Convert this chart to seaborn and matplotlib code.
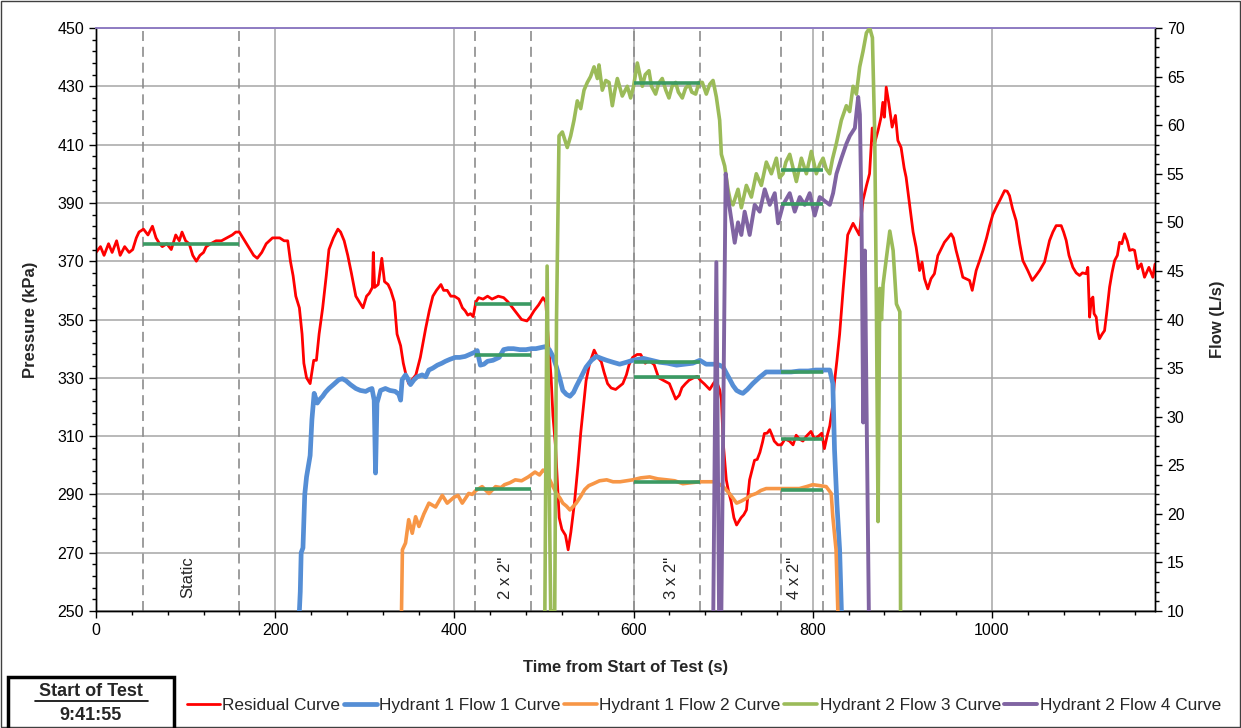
import matplotlib
matplotlib.use('Agg')
import matplotlib.pyplot as plt
from matplotlib.lines import Line2D
from matplotlib.patches import Rectangle
from matplotlib.ticker import MultipleLocator, FixedLocator
import seaborn as sns

# ---- data ----
red_t = [0, 5, 9, 14, 18, 23, 27, 32, 37, 41, 45, 48, 53, 58, 63, 67, 71, 74, 79, 84, 89, 93, 96, 100,
         104, 108, 112, 116, 120, 123, 128, 134, 140, 146, 152, 156, 160, 164, 168, 172, 176, 180, 185,
         190, 197, 205, 210, 214, 217, 220, 223, 227, 230, 232, 235, 239, 243, 246, 249, 253, 257, 260,
         265, 270, 273, 277, 281, 285, 290, 294, 298, 302, 305, 308.5, 309.5, 311, 315, 319, 322, 326,
         329, 333, 336, 340, 343, 346, 349, 352, 357, 362, 368, 372, 376, 380, 385, 388, 392, 396, 400,
         405, 409, 412, 415, 418, 421, 424, 427, 432, 437, 442, 449, 455, 460, 465, 470, 475, 481, 485,
         489, 494, 499, 502, 505, 508, 510, 513, 517, 520, 524, 527, 530, 534, 538, 541, 544, 547, 551,
         556, 560, 564, 567, 571, 575, 580, 584, 588, 592, 595, 599, 604, 608, 613, 617, 623, 628, 634,
         640, 644, 647, 651, 654, 658, 662, 667, 671, 675, 679, 685, 689, 692, 696, 698, 700, 703.5, 706,
         709, 712, 715, 718, 720, 723, 726, 729.5, 732, 735, 738, 741, 744, 746, 749, 752, 755, 757, 761,
         765, 769, 774, 778, 781.5, 785, 789, 793, 798, 802, 807.6, 810, 813, 816, 819, 822, 824, 827,
         830, 834, 839, 842, 845, 848.5, 852, 856, 860, 863.4, 866.4, 869, 873, 876.4, 878.2, 880, 882,
         885, 888.6, 892.3, 895, 898.6, 902, 904.2, 907, 909.8, 912, 915.4, 919.2, 922, 924.7, 928.4, 932,
         935.8, 939.6, 943, 947, 951, 954.4, 957, 960, 964, 967.5, 971, 975, 978, 982.4, 986, 990, 994,
         997.4, 1001, 1004.8, 1009, 1014.1, 1017, 1019.6, 1023, 1027, 1031, 1034.5, 1040, 1045, 1049,
         1053.2, 1058.7, 1064.3, 1068, 1071.7, 1077.3, 1080, 1082.9, 1086, 1090.3, 1094, 1097.8, 1101,
         1105.2, 1107, 1109, 1111, 1112.7, 1114, 1116.4, 1118, 1120, 1123, 1125.7, 1128, 1131.3, 1134,
         1136.9, 1140, 1142.4, 1145, 1148, 1151, 1153.6, 1157, 1159.2, 1162.9, 1166.6, 1170.3, 1175.2,
         1179.6, 1182]
red_p = [373, 375, 372, 376, 373, 377, 372, 375, 373, 374, 378, 380, 381, 379, 382, 378, 376, 375, 376,
         374, 379, 377, 380, 377, 376, 372, 370, 372, 373, 375, 376, 377, 377, 378, 379, 380, 380, 378,
         376, 374, 372, 371, 373, 376, 378, 378, 377, 377, 370, 365, 358, 354, 345, 335, 330, 328, 336,
         336, 345, 354, 365, 374, 378, 381, 380, 377, 372, 366, 358, 356, 354, 358, 359, 361, 373, 361,
         362, 371, 363, 362, 360, 356, 345, 341, 335, 331, 328, 329, 331, 337, 347, 353, 358, 360, 362,
         360, 360, 358, 358, 357, 354, 353, 351.5, 352, 351, 356, 357.5, 357, 358, 357, 358, 357.5, 356,
         354, 352, 350, 349.5, 351, 353, 355, 357.5, 356, 342, 330, 317, 306, 282, 278, 276, 271, 277,
         287, 300, 311, 320, 329, 335, 339.5, 337, 335.5, 332, 328, 326.5, 326, 327, 328, 331, 334.5, 337,
         338, 338, 335, 336, 334.5, 330, 329, 328, 325, 322.7, 324, 326.6, 328, 329.2, 330, 330.5, 329,
         327.9, 326, 328, 329.2, 326, 322.7, 308, 295, 291, 287.4, 282, 279.5, 281, 282, 283, 284.7, 295,
         298, 301.7, 302, 304.4, 308, 310.9, 311, 312.2, 310, 308.3, 307, 307, 309, 308.3, 307, 310.3, 309,
         308.3, 310, 311.6, 309, 310.3, 311, 305.7, 310, 313.5, 320, 327.9, 336, 345, 360.7, 379, 381,
         383, 381, 379, 390.8, 396, 400, 415.7, 410.4, 415, 419.6, 424.5, 419.4, 429.7, 424, 416, 420,
         411.4, 409, 402, 398.8, 392, 385, 380, 374.8, 366.8, 369.7, 364, 360.5, 364, 365.7, 371.9, 374,
         376.5, 378, 379.4, 378, 373.7, 369, 364.5, 364, 363.4, 360, 366.8, 370, 373.7, 378, 382.2, 386,
         388.5, 391, 394.2, 394, 392.5, 388, 383.9, 376, 370.2, 366.8, 363.4, 365, 366.8, 369.7, 377.1,
         380, 382.2, 382.2, 380, 377.1, 372, 367.9, 366, 365.1, 366, 365.7, 367.9, 350.8, 357, 357.7, 352,
         350.8, 346, 343.4, 345, 346.2, 352, 361.1, 366, 370.2, 372, 376.5, 376, 379.4, 377, 373.7, 374,
         373.7, 367.4, 369.1, 364.5, 367.9, 364.5, 369]

h1f1_t = [227, 228, 229, 231, 233, 235, 239, 241, 243.5, 247, 250, 253, 256, 260, 265, 271, 275, 279,
          284, 290, 295, 301, 305, 308, 310.5, 312, 313.6, 317.6, 323, 328, 334, 338, 340, 341.7, 345.5,
          348, 351, 355, 358.5, 364, 368, 371.5, 376, 381, 386, 390, 395, 401, 406, 412, 417, 422, 425.5,
          429, 433, 437, 443, 450, 455, 460, 466, 473, 480, 486, 491, 496, 501, 506, 510, 514, 518, 521,
          525, 529, 533, 536, 541, 547, 553, 558.5, 564, 570, 577, 584.5, 592, 599, 605, 611, 620, 629,
          638, 648, 657, 666, 674, 681, 687, 692, 696, 700, 704, 707, 711, 715, 719, 722, 727, 733, 740,
          748, 757, 767, 776, 785, 795, 803, 811, 819, 822.4, 824.3, 827, 830, 832]
h1f1_q = [10, 12, 16, 16.5, 22, 23.8, 26, 29.7, 32.4, 31.4, 31.8, 32.1, 32.5, 32.9, 33.3, 33.8, 33.9,
          33.7, 33.3, 32.9, 32.7, 32.6, 32.8, 32.9, 31.7, 24.2, 31.4, 32.7, 32.9, 32.7, 32.6, 32.3, 31.7,
          33.8, 34.3, 33.9, 33.3, 33.8, 34.1, 34.3, 34.1, 34.8, 35.0, 35.3, 35.5, 35.7, 35.9, 36.1, 36.1,
          36.2, 36.4, 36.6, 36.8, 35.3, 35.4, 35.7, 35.8, 36.1, 36.9, 37, 37, 36.9, 36.9, 37, 37, 37.1,
          37.2, 36.9, 36.2, 35.1, 33.8, 32.7, 32.3, 32.1, 32.5, 33.1, 34, 35.1, 35.8, 36.2, 36, 35.8, 35.6,
          35.4, 35.6, 35.8, 35.9, 36, 35.8, 35.6, 35.5, 35.3, 35.4, 35.5, 35.8, 35.4, 35.4, 35.4, 35.3,
          35.1, 34.4, 33.9, 33.2, 32.7, 32.5, 32.4, 32.8, 33.4, 34, 34.6, 34.6, 34.6, 34.6, 34.7, 34.7,
          34.8, 34.8, 34.8, 33.4, 26.6, 21, 16.3, 10]

h1f2_t = [341, 342, 345.5, 349, 353, 356.7, 360.5, 366, 371.6, 379, 386.5, 392, 399.5, 404, 408.8, 416,
          420, 424, 431, 438.6, 446, 452, 456, 462, 468, 475, 482.5, 490, 495, 499, 502, 505, 509, 514,
          518, 521, 525, 529, 533, 536, 541, 545.5, 550, 555, 562, 570, 577, 585, 592, 599, 608, 618, 627,
          637, 646, 655, 664, 674, 681, 689, 695, 700, 704, 707, 711, 715, 720, 726, 731, 737, 742, 748,
          757, 767, 776, 785, 793, 800, 808, 815, 820.6, 822.4, 826, 828]
h1f2_q = [10, 16.3, 17, 19.4, 18, 19.7, 18.7, 20, 21.1, 20.7, 21.9, 21.1, 21.7, 21.9, 21.1, 22.1, 22,
          22.4, 22.8, 22.1, 22.8, 22.7, 23, 23.2, 23.5, 23.4, 23.8, 24.3, 24, 24.5, 24.3, 23.8, 23, 22.1,
          21.6, 21.1, 20.8, 20.4, 20.8, 21.1, 21.8, 22.5, 22.9, 23.1, 23.4, 23.5, 23.3, 23.3, 23.4, 23.5,
          23.7, 23.8, 23.6, 23.5, 23.4, 23.1, 23.2, 23.3, 23.3, 23.3, 23.1, 22.8, 22.4, 22.1, 21.6, 21.1,
          21.3, 21.6, 21.9, 22.1, 22.4, 22.6, 22.6, 22.6, 22.6, 22.6, 22.8, 23, 22.9, 22.8, 22.1, 19.7,
          16.3, 10]

h2f3_t = [501, 503.5, 506, 507.5, 510, 512, 514, 516.8, 520.5, 526, 529.8, 533.5, 537.2, 541, 544.7,
          548.4, 552, 555.9, 559.6, 561.4, 565.1, 569, 572.6, 576.3, 579, 581.9, 587.4, 593, 596.7, 600,
          604.2, 609.8, 613, 617.2, 620, 624.6, 628, 632, 636, 639.5, 643, 647, 650, 654.4, 658, 661.8,
          665, 669.3, 673, 676.7, 681.2, 685, 688.7, 692.4, 696.1, 698, 701.7, 705.4, 708, 711, 716.6,
          720.3, 725.9, 731.5, 737, 742.6, 748.2, 753.8, 759.4, 763, 766.8, 770, 774.3, 778, 781.7, 787.3,
          792.9, 798.4, 804, 808, 811.5, 815, 818.9, 822, 826.3, 831.9, 837.5, 841.2, 845, 848.7, 852.4,
          856.1, 859.9, 863.6, 866.6, 869.2, 871.1, 872.9, 874.8, 876.7, 878.5, 882.3, 886, 889.7, 893.4,
          897.2, 898]
h2f3_q = [10, 45.5, 22, 10, 10, 10, 40, 58.9, 59.3, 57.7, 58.9, 60.5, 62.5, 61.7, 63.6, 64.4, 65, 66,
          64.8, 66.2, 63.6, 64.6, 64.4, 62, 63.5, 64.8, 63, 64, 62.8, 64, 66.4, 64, 65.2, 65.6, 64, 63.2,
          64.3, 64.8, 63.6, 62.8, 64, 64.4, 63.4, 62.8, 63.8, 64.2, 63.4, 63.2, 64.4, 64.4, 63.2, 64.2,
          64.6, 62.9, 60.5, 57, 55.8, 53.4, 52.2, 51.8, 53.4, 51.5, 53.8, 52.6, 55, 53.8, 56.2, 55, 56.6,
          54.6, 55, 56.2, 57, 55.6, 54.2, 56.6, 55, 57.3, 55, 56, 56.6, 55.5, 55, 56.5, 58.1, 60.5, 62,
          61.4, 64, 63.2, 66, 67.6, 69.5, 70, 69, 58.9, 40.8, 19.2, 43.2, 40, 43.6, 46.4, 49.1, 47.1, 41.6,
          40.8, 10]

h2f4_t = [689, 692.4, 695.4, 698, 702.8, 705.4, 709.1, 712.9, 716.6, 720.3, 724, 729.6, 735.2, 740.8,
          746.4, 752, 757.6, 761.3, 766.8, 774.3, 779.9, 785.5, 791, 796.6, 802.2, 807.8, 813.4, 819,
          822.7, 826.5, 832, 837.6, 841.4, 847, 850.7, 852.6, 854.4, 856.3, 858.2, 860, 862.6]
h2f4_q = [10, 45.9, 10, 10, 55, 52.6, 50.3, 47.9, 50, 48.7, 51.1, 48.7, 51.8, 51.1, 53.4, 51.8, 53,
          49.9, 51.8, 53, 51.1, 52.6, 51.8, 53, 50.7, 52.6, 52.2, 51.8, 53, 55, 56.6, 58.1, 58.9, 59.7,
          62.9, 61.1, 51.1, 29.4, 47.1, 31.4, 10]

# test stages: start / end times and stage labels
stage_start = [52.4, 422.8, 600, 765]
stage_end = [159.5, 486, 673.7, 811]
stage_labels = ['Static', '2 x 2"', '3 x 2"', '4 x 2"']
stage_label_t = [102.6, 457, 642.5, 779.7]

# stage averages (green bars)
avg_residual = [376, 355.3, 330.2, 309]
avg_h1f1 = [None, 36.35, 35.6, 34.6]
avg_h1f2 = [None, 22.6, 23.3, 22.5]
avg_h2f3 = [None, None, 64.3, 55.4]
avg_h2f4 = [None, None, None, 51.9]

pressure_ticks = list(range(250, 451, 20))

# ---- style ----
sns.set_style('white')
plt.rcParams['font.family'] = ['Liberation Sans', 'DejaVu Sans']
plt.rcParams['font.size'] = 11

fig = plt.figure(figsize=(12.41, 7.28), dpi=100)
ax = fig.add_axes([96 / 1241, 1 - 611 / 728, (1155 - 96) / 1241, (611 - 28) / 728])
ax2 = ax.twinx()

grid_c = '#a6a6a6'
avg_c = '#3b9a63'

ax.set_xlim(0, 1182)
ax.set_ylim(250, 450)
ax2.set_ylim(10, 70)
ax.xaxis.set_major_locator(MultipleLocator(200))
ax.xaxis.set_minor_locator(MultipleLocator(40))
ax.yaxis.set_major_locator(FixedLocator(pressure_ticks))
ax.yaxis.set_minor_locator(FixedLocator(list(range(250, 451, 4))))
ax2.yaxis.set_major_locator(MultipleLocator(5))
ax2.yaxis.set_minor_locator(MultipleLocator(1))
ax.grid(True, which='major', color=grid_c, lw=1.1, zorder=0)
ax.set_axisbelow(True)

for a in (ax, ax2):
    a.tick_params(which='major', direction='out', length=5, width=1, colors='black', labelsize=11.5)
    a.tick_params(which='minor', direction='out', length=3, width=1, colors='black')
ax.tick_params(axis='x', which='both', bottom=True)
ax.tick_params(axis='y', which='both', left=True)
ax2.tick_params(axis='y', which='both', right=True)

for a in (ax, ax2):
    for s in ('left', 'bottom', 'right'):
        a.spines[s].set_color('black')
        a.spines[s].set_linewidth(1)
    a.spines['top'].set_color('#8e7cc3')
    a.spines['top'].set_linewidth(1.2)

# stage dashed lines
for t0, t1 in zip(stage_start, stage_end):
    for tt in (t0, t1):
        ax.axvline(tt, color='#8c8c8c', lw=1.2, ls=(0, (6, 3.5)), zorder=1)
for lab, tl in zip(stage_labels, stage_label_t):
    ax.text(tl, 261.5, lab, rotation=90, ha='center', va='center', fontsize=12)

# curves
sns.lineplot(x=red_t, y=red_p, ax=ax, color='#ff0000', lw=2.0, label='Residual Curve', zorder=3)
sns.lineplot(x=h1f1_t, y=h1f1_q, ax=ax2, color='#558ed5', lw=3.4, label='Hydrant 1 Flow 1 Curve', zorder=3)
sns.lineplot(x=h1f2_t, y=h1f2_q, ax=ax2, color='#f79646', lw=2.6, label='Hydrant 1 Flow 2 Curve', zorder=3)
sns.lineplot(x=h2f3_t, y=h2f3_q, ax=ax2, color='#9bbb59', lw=2.6, label='Hydrant 2 Flow 3 Curve', zorder=3)
sns.lineplot(x=h2f4_t, y=h2f4_q, ax=ax2, color='#8064a2', lw=2.8, label='Hydrant 2 Flow 4 Curve', zorder=3)

# stage averages
for t0, t1, v in zip(stage_start, stage_end, avg_residual):
    ax.hlines(v, t0, t1, color=avg_c, lw=2.6, zorder=4)
for vals in (avg_h1f1, avg_h1f2, avg_h2f3, avg_h2f4):
    for t0, t1, v in zip(stage_start, stage_end, vals):
        if v is not None:
            ax2.hlines(v, t0, t1, color=avg_c, lw=2.6, zorder=5)

h1, l1 = ax.get_legend_handles_labels()
h2, l2 = ax2.get_legend_handles_labels()
ax.get_legend().remove()
ax2.get_legend().remove()

ax.set_xlabel('Time from Start of Test (s)', fontsize=12, fontweight='bold', labelpad=16)
ax.set_ylabel('Pressure (kPa)', fontsize=12, fontweight='bold', labelpad=14)
ax2.set_ylabel('Flow (L/s)', fontsize=12, fontweight='bold', labelpad=18, rotation=90)

fig.legend(h1 + h2, l1 + l2, loc='center', bbox_to_anchor=(704 / 1241, 1 - 705 / 728), ncol=5,
           frameon=False, fontsize=12.4, handlelength=1.9, handletextpad=0.15, columnspacing=0.2)

# figure border and start-of-test box
fig.patches.append(Rectangle((0.0008, 0.001), 0.998, 0.997, transform=fig.transFigure,
                             fill=False, ec='#404040', lw=1))
fig.patches.append(Rectangle((8 / 1241, -0.01), 166 / 1241, (51 / 728) + 0.01, transform=fig.transFigure,
                             fill=False, ec='black', lw=2.5))
fig.text(91 / 1241, 1 - 692 / 728, 'Start of Test', ha='center', va='center', fontsize=13, fontweight='bold')
fig.add_artist(Line2D([35 / 1241, 148 / 1241], [1 - 701 / 728, 1 - 701 / 728], color='black', lw=1.2))
fig.text(91 / 1241, 1 - 716 / 728, '9:41:55', ha='center', va='center', fontsize=13, fontweight='bold')

fig.savefig('out.png', dpi=100)
